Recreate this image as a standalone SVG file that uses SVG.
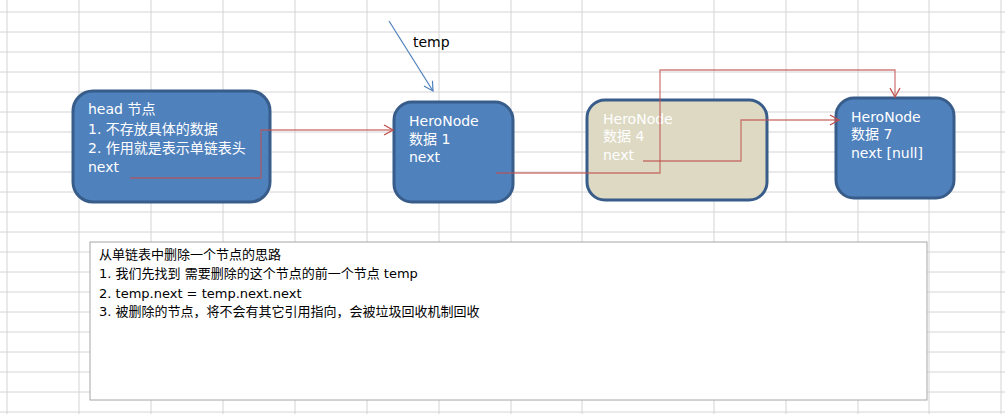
<svg xmlns="http://www.w3.org/2000/svg" width="1005" height="414" viewBox="0 0 1005 414">
<style>
.g{stroke:#d4d4d4;stroke-width:1}
.n{fill:#4f81bd;stroke:#385d8a;stroke-width:3}
.t{font-family:"DejaVu Sans","Noto Sans CJK SC",sans-serif;font-size:14px;fill:#fff}
.c{fill:none;stroke:#c0504d;stroke-opacity:0.75;stroke-width:1.3}
.b{font-family:"DejaVu Sans","Noto Sans CJK SC",sans-serif;font-size:13px;fill:#000}
</style>
<defs>
<marker id="ar" markerWidth="12" markerHeight="12" refX="10" refY="6" orient="auto" markerUnits="userSpaceOnUse"><path d="M1,1 L10,6 L1,11" fill="none" stroke="#c0504d" stroke-width="1.3"/></marker>
<marker id="ab" markerWidth="12" markerHeight="12" refX="10" refY="6" orient="auto" markerUnits="userSpaceOnUse"><path d="M1,1 L10,6 L1,11" fill="none" stroke="#4f81bd" stroke-width="1.2"/></marker>
</defs>
<rect width="1005" height="414" fill="#fff"/>
<g id="grid">
<path class="g" d="M7,0V414M79,0V414M151,0V414M223,0V414M295,0V414M367,0V414M439,0V414M511,0V414M582,0V414M714,0V414M786,0V414M858,0V414M929,0V414M1001,0V414"/>
<path class="g" d="M0,12H1005M0,32H1005M0,52H1005M0,72H1005M0,92H1005M0,112H1005M0,132H1005M0,152H1005M0,172H1005M0,192H1005M0,212H1005M0,232H1005M0,252H1005M0,272H1005M0,292H1005M0,312H1005M0,332H1005M0,352H1005M0,372H1005M0,392H1005M0,412H1005"/>
</g>
<g id="head"><rect class="n" x="73" y="91" width="197" height="111" rx="20"/>
<text class="t" x="88" y="114">head 节点</text>
<text class="t" x="88" y="134">1. 不存放具体的数据</text>
<text class="t" x="88" y="153">2. 作用就是表示单链表头</text>
<text class="t" x="88" y="172">next</text></g>
<g id="node1"><rect class="n" x="394" y="102" width="119" height="100" rx="18"/>
<text class="t" x="409" y="126">HeroNode</text>
<text class="t" x="409" y="144">数据 1</text>
<text class="t" x="409" y="162">next</text></g>
<g id="node4"><rect class="n" x="587" y="100" width="180" height="100" rx="18" style="fill:#ddd9c3"/>
<text class="t" x="603" y="124">HeroNode</text>
<text class="t" x="603" y="141">数据 4</text>
<text class="t" x="603" y="160">next</text></g>
<g id="node7"><rect class="n" x="836" y="98" width="118" height="100" rx="18"/>
<text class="t" x="851" y="122">HeroNode</text>
<text class="t" x="851" y="139">数据 7</text>
<text class="t" x="851" y="158">next [null]</text></g>
<g id="connectors">
<path class="c" d="M130,178H261V130H393" marker-end="url(#ar)"/>
<path class="c" d="M496,173H660V70H895V97" marker-end="url(#ar)"/>
<path class="c" d="M643,161H741V120H839" marker-end="url(#ar)"/>
<path d="M389,21L433,91" fill="none" stroke="#4f81bd" stroke-width="1.2" marker-end="url(#ab)"/>
</g>
<text x="413" y="47" style="font-family:'DejaVu Sans',sans-serif;font-size:14px">temp</text>
<g id="note"><rect x="90" y="242" width="837" height="158" fill="#fff" stroke="#a6a6a6"/>
<text class="b" x="99" y="259">从单链表中删除一个节点的思路</text>
<text class="b" x="99" y="278">1.  我们先找到 需要删除的这个节点的前一个节点 temp</text>
<text class="b" x="99" y="298">2.  temp.next = temp.next.next</text>
<text class="b" x="99" y="316">3. 被删除的节点，将不会有其它引用指向，会被垃圾回收机制回收</text></g>
</svg>
